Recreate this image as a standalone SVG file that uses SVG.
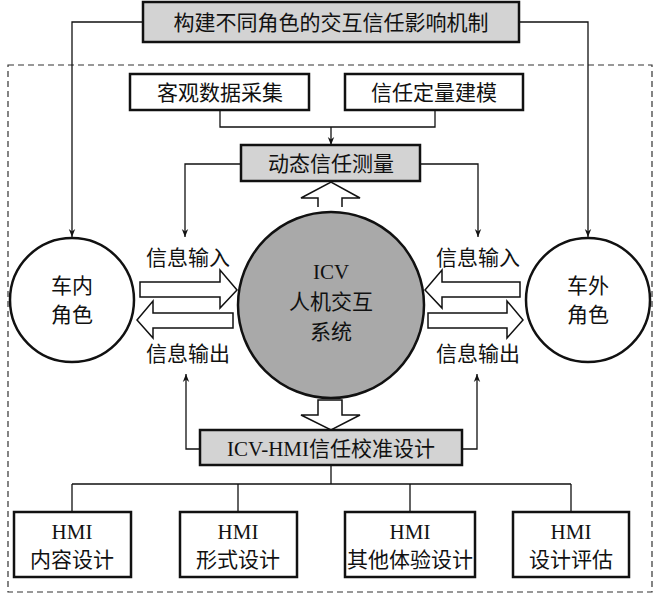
<svg xmlns="http://www.w3.org/2000/svg" width="660" height="601" viewBox="0 0 660 601">
<defs>
<style>
text{font-family:"Liberation Serif","Noto Sans CJK SC",serif;font-size:21px;fill:#111;text-anchor:middle}
.b{fill:#fff;stroke:#111;stroke-width:2.5}
.g{fill:#d3d3d3;stroke:#111;stroke-width:2.5}
.l{fill:none;stroke:#111;stroke-width:1.3}
.h{fill:#fff;stroke:#111;stroke-width:1.5;stroke-linejoin:miter}
</style>
<marker id="a" viewBox="0 0 10 10" refX="10" refY="5" markerWidth="8" markerHeight="10" orient="auto" markerUnits="userSpaceOnUse"><path d="M0,1 L10,5 L0,9 L3,5z" fill="#111"/></marker>
</defs>
<rect width="660" height="601" fill="#fff"/>
<rect x="8" y="65" width="644" height="527" fill="none" stroke="#333" stroke-width="1.2" stroke-dasharray="6,4"/>
<g id="connectors">
<path class="l" d="M143,22 H72 V237" marker-end="url(#a)"/>
<path class="l" d="M519,22 H588 V237" marker-end="url(#a)"/>
<path class="l" d="M220,110 V127 H435 V110"/>
<path class="l" d="M331,127 V145" marker-end="url(#a)"/>
<path class="l" d="M241,164 H185 V237" marker-end="url(#a)"/>
<path class="l" d="M420,164 H478 V237" marker-end="url(#a)"/>
<path class="l" d="M200,449 H186 V374" marker-end="url(#a)"/>
<path class="l" d="M462,449 H477 V374" marker-end="url(#a)"/>
<path class="l" d="M331,465 V484 M72,484 H571 M72,484 V512 M238,484 V512 M410,484 V512 M571,484 V512"/>
<path class="h" d="M318,207 V198 H301 L331,182 L360,198 H342 V207"/>
<path class="h" d="M318,400 V415 H301 L331,430 L360,415 H342 V400z"/>
<path class="h" d="M140,282 H220 V270 L237,290 L220,308 V297 H140z"/>
<path class="h" d="M233,313 H153 V301 L137,320 L153,338 V328 H233z"/>
<path class="h" d="M520,282 H442 V270 L425,290 L442,308 V297 H520z"/>
<path class="h" d="M428,313 H507 V301 L523,320 L507,338 V328 H428z"/>
</g>
<g id="top"><rect class="g" x="143" y="2" width="376" height="40"/><text x="331" y="30">构建不同角色的交互信任影响机制</text></g>
<g id="collect"><rect class="b" x="130" y="74" width="179" height="36"/><text x="220" y="100">客观数据采集</text></g>
<g id="model"><rect class="b" x="345" y="74" width="178" height="36"/><text x="434" y="100">信任定量建模</text></g>
<g id="measure"><rect class="g" x="241" y="145" width="179" height="36"/><text x="331" y="171">动态信任测量</text></g>
<g id="core"><circle cx="331" cy="305" r="93" fill="#a9a9a9" stroke="#111" stroke-width="2.5"/><text x="331" y="279">ICV</text><text x="331" y="309">人机交互</text><text x="331" y="339">系统</text></g>
<g id="inner"><circle class="b" cx="72" cy="300" r="62"/><text x="72" y="293">车内</text><text x="72" y="322">角色</text></g>
<g id="outer"><circle class="b" cx="588" cy="300" r="62"/><text x="588" y="293">车外</text><text x="588" y="322">角色</text></g>
<g id="labels"><text x="188" y="265">信息输入</text><text x="188" y="361">信息输出</text><text x="478" y="265">信息输入</text><text x="478" y="361">信息输出</text></g>
<g id="calib"><rect class="g" x="200" y="430" width="262" height="35"/><text x="331" y="456">ICV-HMI信任校准设计</text></g>
<g id="b1"><rect class="b" x="14" y="512" width="117" height="65"/><text x="72" y="539">HMI</text><text x="72" y="567">内容设计</text></g>
<g id="b2"><rect class="b" x="180" y="512" width="117" height="65"/><text x="238" y="539">HMI</text><text x="238" y="567">形式设计</text></g>
<g id="b3"><rect class="b" x="345" y="512" width="130" height="65"/><text x="410" y="539">HMI</text><text x="410" y="567">其他体验设计</text></g>
<g id="b4"><rect class="b" x="513" y="512" width="116" height="65"/><text x="571" y="539">HMI</text><text x="571" y="567">设计评估</text></g>
</svg>
